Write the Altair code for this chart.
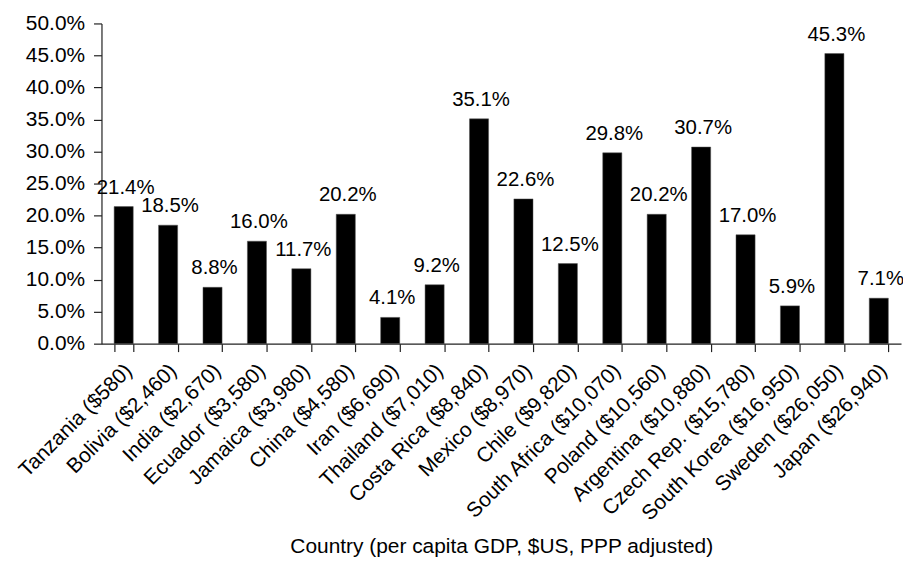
import altair as alt
import pandas as pd

countries = [
    "Tanzania ($580)", "Bolivia ($2,460)", "India ($2,670)", "Ecuador ($3,580)",
    "Jamaica ($3,980)", "China ($4,580)", "Iran ($6,690)", "Thailand ($7,010)",
    "Costa Rica ($8,840)", "Mexico ($8,970)", "Chile ($9,820)",
    "South Africa ($10,070)", "Poland ($10,560)", "Argentina ($10,880)",
    "Czech Rep. ($15,780)", "South Korea ($16,950)", "Sweden ($26,050)",
    "Japan ($26,940)",
]
values = [21.4, 18.5, 8.8, 16.0, 11.7, 20.2, 4.1, 9.2, 35.1, 22.6, 12.5,
          29.8, 20.2, 30.7, 17.0, 5.9, 45.3, 7.1]
y_ticks = [0, 0.05, 0.10, 0.15, 0.20, 0.25, 0.30, 0.35, 0.40, 0.45, 0.50]

df = pd.DataFrame({"country": countries, "share": [v / 100 for v in values]})

FONT = "Liberation Sans"
FS = 21

x = alt.X(
    "country:N",
    sort=None,
    scale=alt.Scale(paddingInner=0.57, paddingOuter=0.285),
    axis=alt.Axis(
        title="Country (per capita GDP, $US, PPP adjusted)",
        labelAngle=-45,
        labelAlign="right",
        labelBaseline="top",
        labelPadding=8,
        labelOffset=-3,
        labelLimit=0,
        labelOverlap=False,
        tickBand="extent",
        tickSize=8,
        titleY=210,
        titleBaseline="alphabetic",
    ),
)
y = alt.Y(
    "share:Q",
    scale=alt.Scale(domain=[0, 0.5], nice=False),
    axis=alt.Axis(
        title=None,
        format=".1%",
        values=y_ticks,
        tickSize=8,
        labelPadding=9,
        grid=False,
    ),
)

base = alt.Chart(df)
bars = base.mark_bar(color="black", stroke="#555555", strokeWidth=0.5).encode(x=x, y=y)
labels = base.mark_text(
    font=FONT, fontSize=20.5, color="black", dy=-13, baseline="alphabetic", dx=2
).encode(x=x, y=y, text=alt.Text("share:Q", format=".1%"))

chart = (
    (bars + labels)
    .properties(
        width=804,
        height=322,
        autosize=alt.AutoSizeParams(type="none"),
        padding={"left": 94, "top": 14, "right": 2, "bottom": 214},
        background="white",
    )
    .configure_view(stroke=None)
    .configure_axis(
        labelFont=FONT,
        labelFontSize=FS,
        labelColor="black",
        titleFont=FONT,
        titleFontSize=FS,
        titleFontWeight="normal",
        titleColor="black",
        domainColor="#222222",
        tickColor="#222222",
        domainWidth=1.2,
        tickWidth=1.2,
    )
)

chart.save("out.html", embed_options={"renderer": "svg", "actions": False})
